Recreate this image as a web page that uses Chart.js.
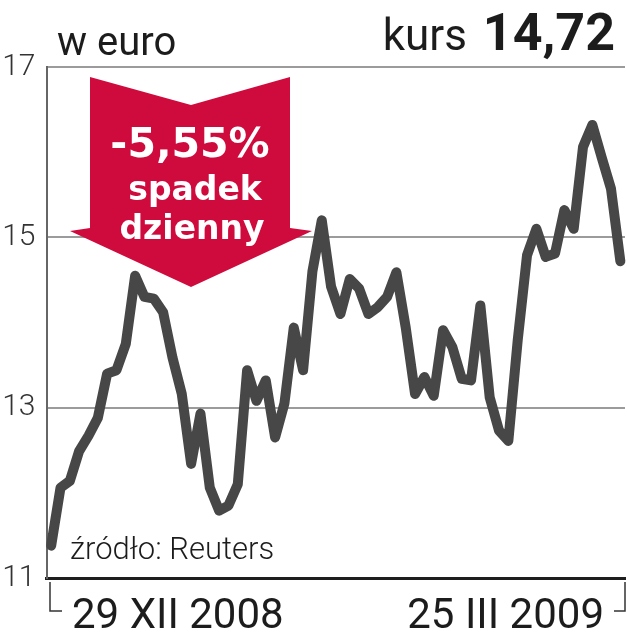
<!DOCTYPE html>
<html>
<head>
<meta charset="utf-8">
<title>kurs</title>
<script src="https://cdn.jsdelivr.net/npm/chart.js@4.4.0/dist/chart.umd.min.js"></script>
<style>
    html, body { margin: 0; padding: 0; background: #fff; }
    #wrap { width: 627px; height: 640px; }
</style>
</head>
<body>
<div id="wrap"><canvas id="myChart" width="627" height="640"></canvas></div>
<script>
// trading days 29.12.2008 - 25.03.2009
const dates = [
    '29.12', '30.12', '31.12',
    '02.01', '05.01', '06.01', '07.01', '08.01', '09.01', '12.01', '13.01', '14.01', '15.01', '16.01',
    '19.01', '20.01', '21.01', '22.01', '23.01', '26.01', '27.01', '28.01', '29.01', '30.01',
    '02.02', '03.02', '04.02', '05.02', '06.02', '09.02', '10.02', '11.02', '12.02', '13.02',
    '16.02', '17.02', '18.02', '19.02', '20.02', '23.02', '24.02', '25.02', '26.02', '27.02',
    '02.03', '03.03', '04.03', '05.03', '06.03', '09.03', '10.03', '11.03', '12.03', '13.03',
    '16.03', '17.03', '18.03', '19.03', '20.03', '23.03', '24.03', '25.03'
]

// kurs w euro
const prices = [
    11.38, 12.06, 12.14, 12.49, 12.67, 12.88, 13.40, 13.44, 13.75, 14.55,
    14.30, 14.28, 14.12, 13.59, 13.16, 12.34, 12.93, 12.06, 11.79, 11.85,
    12.10, 13.44, 13.08, 13.32, 12.65, 13.05, 13.94, 13.44, 14.60, 15.20,
    14.42, 14.10, 14.51, 14.40, 14.10, 14.18, 14.30, 14.59, 13.94, 13.16,
    13.36, 13.14, 13.91, 13.71, 13.34, 13.32, 14.20, 13.12, 12.73, 12.61,
    13.79, 14.79, 15.10, 14.77, 14.81, 15.32, 15.10, 16.06, 16.32, 15.94,
    15.57, 14.72
]

const yTicks = [11, 13, 15, 17]
const xTickLabels = ['29 XII 2008', '25 III 2009']

const unit = 'w euro'
const lastLabel = 'kurs'
const lastValue = '14,72'
const changeLines = ['-5,55%', 'spadek', 'dzienny']
const source = 'źródło: Reuters'

const RED = '#cf0a3d'
const INK = '#1c1c1c'

const decor = {
    id: 'decor',
    beforeDatasetsDraw(chart) {
        const ctx = chart.ctx
        // red arrow
        ctx.save()
        ctx.fillStyle = RED
        ctx.beginPath()
        ctx.moveTo(90, 77)
        ctx.lineTo(191, 105)
        ctx.lineTo(290, 77)
        ctx.lineTo(290, 228)
        ctx.lineTo(312, 231)
        ctx.lineTo(191, 287)
        ctx.lineTo(70, 231)
        ctx.lineTo(90, 228)
        ctx.closePath()
        ctx.fill()

        ctx.fillStyle = '#fff'
        ctx.textAlign = 'center'
        ctx.textBaseline = 'alphabetic'
        ctx.font = 'bold 41px "DejaVu Sans"'
        ctx.fillText(changeLines[0], 190, 157)
        ctx.font = 'bold 33px "DejaVu Sans"'
        ctx.fillText(changeLines[1], 195, 200)
        ctx.fillText(changeLines[2], 192, 239)
        ctx.restore()
    },
    afterDraw(chart) {
        const ctx = chart.ctx
        const area = chart.chartArea
        ctx.save()
        ctx.fillStyle = INK
        ctx.textBaseline = 'alphabetic'

        // header
        ctx.textAlign = 'left'
        ctx.font = '400 40px Roboto'
        ctx.fillText(unit, 57, 55)

        ctx.textAlign = 'right'
        ctx.font = 'bold 52px Roboto'
        ctx.fillText(lastValue, 615, 50)
        const w = ctx.measureText(lastValue).width
        ctx.font = '400 44px Roboto'
        ctx.fillText(lastLabel, 615 - w - 16, 50)

        // source
        ctx.textAlign = 'left'
        ctx.font = '300 31px Roboto'
        ctx.fillText(source, 70, 559)

        // date labels under the axis
        ctx.font = '400 42px Roboto'
        ctx.textAlign = 'left'
        ctx.fillText(xTickLabels[0], 72, 628)
        ctx.textAlign = 'right'
        ctx.fillText(xTickLabels[1], 604, 628)

        // brackets
        ctx.strokeStyle = '#333'
        ctx.lineWidth = 1.5
        ctx.beginPath()
        ctx.moveTo(50, area.bottom + 4)
        ctx.lineTo(50, 611)
        ctx.lineTo(62, 611)
        ctx.moveTo(625, area.bottom + 4)
        ctx.lineTo(625, 611)
        ctx.lineTo(614, 611)
        ctx.stroke()
        ctx.restore()
    }
}

const ctx = document.getElementById('myChart').getContext('2d')

const chart = new Chart(ctx, {
    type: 'line',
    data: {
        labels: dates,
        datasets: [{
            data: prices,
            borderColor: '#474747',
            borderWidth: 10,
            borderJoinStyle: 'round',
            borderCapStyle: 'round',
            pointRadius: 0,
            tension: 0,
            fill: false
        }]
    },
    options: {
        responsive: false,
        animation: false,
        devicePixelRatio: 1,
        layout: {
            padding: { top: 67, left: 1, right: 2, bottom: 62 }
        },
        plugins: {
            legend: { display: false },
            tooltip: { enabled: false },
            title: { display: false }
        },
        scales: {
            x: {
                offset: true,
                grid: { display: false, drawTicks: false },
                border: { display: true, color: '#1e1e1e', width: 3 },
                ticks: { display: false }
            },
            y: {
                min: 11,
                max: 17,
                afterBuildTicks(scale) {
                    scale.ticks = yTicks.map(v => ({ value: v }))
                },
                afterFit(scale) {
                    scale.width = 45.5
                },
                grid: { color: '#9b9b9b', lineWidth: 2, drawTicks: false },
                border: { display: true, color: '#666', width: 2 },
                ticks: {
                    padding: 11,
                    color: '#333',
                    font: { family: 'Roboto', size: 30, weight: '300' }
                }
            }
        }
    },
    plugins: [decor]
})
</script>
</body>
</html>
